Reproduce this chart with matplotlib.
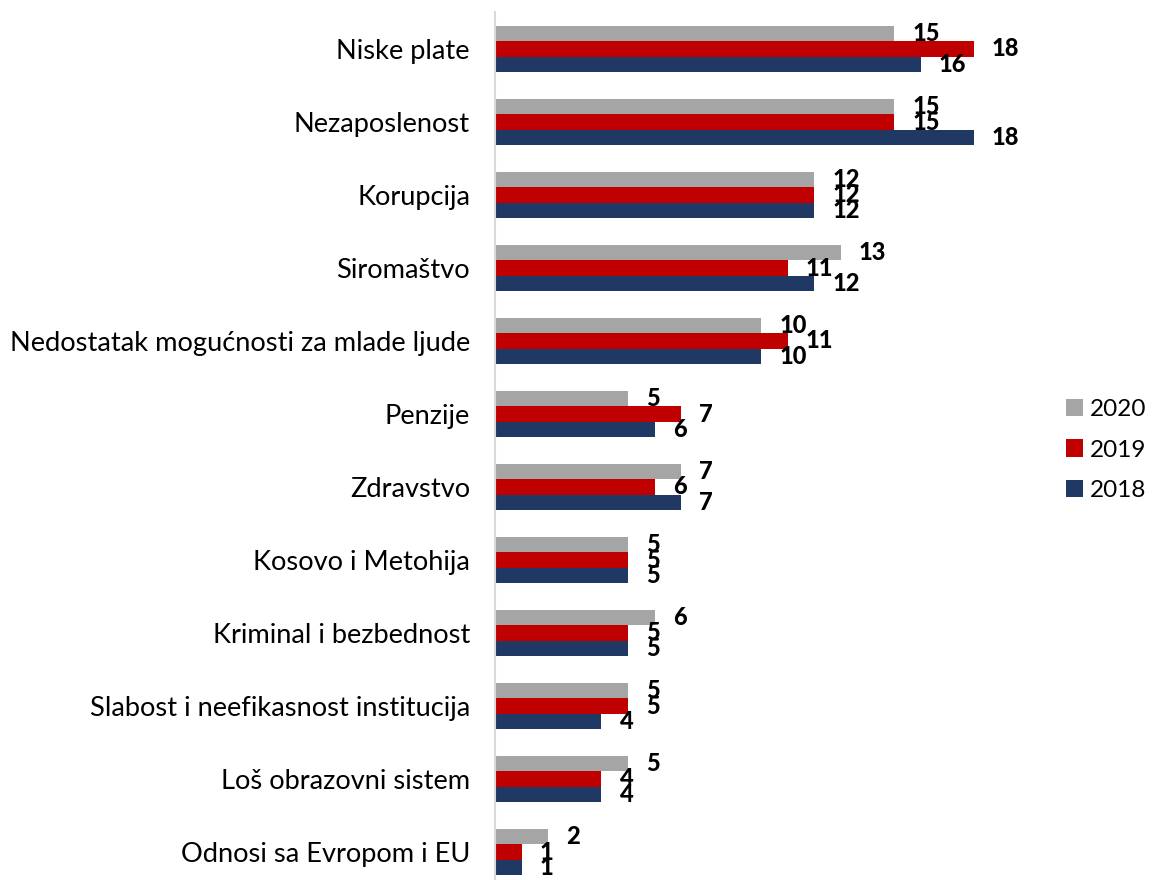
import matplotlib
matplotlib.use("Agg")
import matplotlib.pyplot as plt
import numpy as np
from matplotlib.patches import Patch

plt.rcParams["font.family"] = ["Lato", "DejaVu Sans"]

CATEGORIES = [
    "Niske plate",
    "Nezaposlenost",
    "Korupcija",
    "Siromaštvo",
    "Nedostatak mogućnosti za mlade ljude",
    "Penzije",
    "Zdravstvo",
    "Kosovo i Metohija",
    "Kriminal i bezbednost",
    "Slabost i neefikasnost institucija",
    "Loš obrazovni sistem",
    "Odnosi sa Evropom i EU",
]
YEARS = ["2020", "2019", "2018"]
VALUES_2020 = [15, 15, 12, 13, 10, 5, 7, 5, 6, 5, 5, 2]
VALUES_2019 = [18, 15, 12, 11, 11, 7, 6, 5, 5, 5, 4, 1]
VALUES_2018 = [16, 18, 12, 12, 10, 6, 7, 5, 5, 4, 4, 1]

COLORS = ["#A5A5A5", "#C00000", "#203864"]
BAR_H = 0.21

fig = plt.figure(figsize=(11.54, 8.8), dpi=100)
ax = fig.add_axes([495 / 1154, 0.0, 532 / 1154, 1 - 12 / 880])

y = np.arange(len(CATEGORIES))
series = [VALUES_2020, VALUES_2019, VALUES_2018]
for k, (vals, color) in enumerate(zip(series, COLORS)):
    ypos = y + (k - 1) * BAR_H
    ax.barh(ypos, vals, height=BAR_H, color=color, linewidth=0)
    for yy, v in zip(ypos, vals):
        ax.annotate(
            f"{v}",
            xy=(v, yy),
            xytext=(13, 0),
            textcoords="offset points",
            ha="left",
            va="center",
            fontsize=17,
            fontweight="black",
            color="black",
            annotation_clip=False,
        )

ax.set_xlim(0, 20)
ax.set_ylim(11 + 28 / 73, -37 / 73)
ax.set_yticks(y)
ax.set_yticklabels(CATEGORIES, fontsize=19.6)
ax.tick_params(axis="y", length=0, pad=18)
ax.set_xticks([])
for side in ("top", "right", "bottom"):
    ax.spines[side].set_visible(False)
ax.spines["left"].set_color("#D9D9D9")
ax.spines["left"].set_linewidth(1.5)

handles = [Patch(facecolor=c, edgecolor="none") for c in COLORS]
fig.legend(
    handles,
    YEARS,
    loc="center left",
    bbox_to_anchor=(1066 / 1154, 1 - 450 / 880),
    frameon=False,
    fontsize=17.5,
    handlelength=0.7,
    handleheight=0.7,
    handletextpad=0.3,
    labelspacing=0.8,
    borderpad=0,
    borderaxespad=0,
)

fig.savefig("out.png", dpi=100)
